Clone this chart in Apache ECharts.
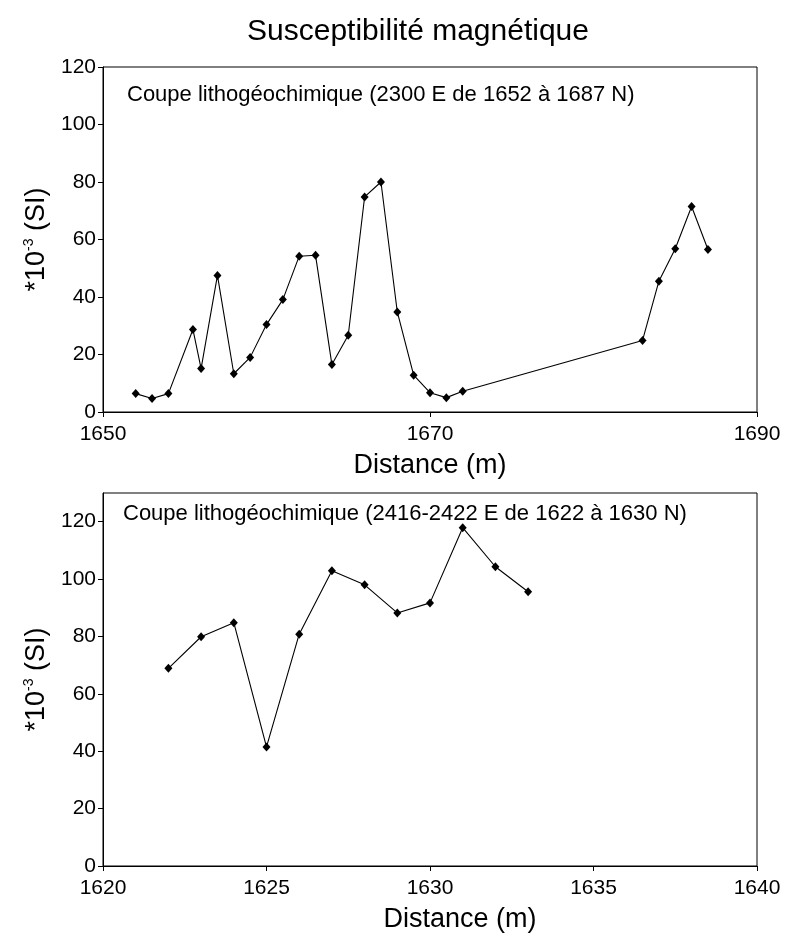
<!DOCTYPE html>
<html>
<head>
<meta charset="utf-8">
<script src="https://cdn.jsdelivr.net/npm/echarts@6/dist/echarts.min.js"></script>
<style>
  html, body { margin: 0; padding: 0; background: #fff; }
  #chart { width: 792px; height: 943px; }
</style>
</head>
<body>
<div id="chart"></div>
<script>
// Section 1: 2300 E, from 1652 to 1687 N
const distance1 = [1652, 1653, 1654, 1655.5, 1656, 1657, 1658, 1659, 1660, 1661, 1662, 1663, 1664,
                   1665, 1666, 1667, 1668, 1669, 1670, 1671, 1672, 1683, 1684, 1685, 1686, 1687];
const suscept1 = [6.4, 4.7, 6.4, 28.7, 15.1, 47.5, 13.3, 19.0, 30.4, 39.1, 54.2, 54.5, 16.5,
                  26.7, 74.8, 80.0, 34.8, 12.8, 6.7, 5.0, 7.2, 24.9, 45.5, 56.8, 71.5, 56.5];

// Section 2: 2416-2422 E, from 1622 to 1630 N
const distance2 = [1622, 1623, 1624, 1625, 1626, 1627, 1628, 1629, 1630, 1631, 1632, 1633];
const suscept2 = [68.9, 79.9, 84.8, 41.5, 80.8, 102.9, 98.0, 88.2, 91.7, 117.9, 104.3, 95.6];

const yTicks = [0, 20, 40, 60, 80, 100, 120];

const mainTitle = 'Susceptibilité magnétique';
const section1Title = 'Coupe lithogéochimique (2300 E de 1652 à 1687 N)';
const section2Title = 'Coupe lithogéochimique (2416-2422 E de 1622 à 1630 N)';
const xName = 'Distance (m)';

const FONT = '"Liberation Sans", Arial, sans-serif';

function pairs(xs, ys) { return xs.map((x, i) => [x, ys[i]]); }

const yName = '*10{sup|-3} (SI)';
const yNameStyle = {
  fontFamily: FONT, fontSize: 27, color: '#000',
  rich: { sup: { fontFamily: FONT, fontSize: 14, color: '#000', verticalAlign: 'top', padding: [0, 0, 14, 0] } }
};

function xAxisCfg(gridIndex, min, max, interval, extraPad) {
  return {
    type: 'value', gridIndex, min, max, interval,
    name: xName, nameLocation: 'middle', nameGap: 40,
    nameTextStyle: { fontFamily: FONT, fontSize: 27, color: '#000', padding: [0, 0, 0, extraPad] },
    axisLine: { show: true, onZero: false, lineStyle: { color: '#000', width: 1 } },
    axisTick: { show: true, inside: false, length: 5, lineStyle: { color: '#000' } },
    axisLabel: { fontFamily: FONT, fontSize: 21, color: '#000', margin: 12, formatter: v => String(v) },
    splitLine: { show: false }
  };
}

function yAxisCfg(gridIndex, max) {
  return {
    type: 'value', gridIndex, min: 0, max, interval: 20,
    name: yName, nameLocation: 'middle', nameGap: 50, nameRotate: 90,
    nameTextStyle: yNameStyle,
    axisLine: { show: true, lineStyle: { color: '#000', width: 1 } },
    axisTick: { show: true, inside: false, length: 5, lineStyle: { color: '#000' }, customValues: yTicks },
    axisLabel: { fontFamily: FONT, fontSize: 21, color: '#000', margin: 7, customValues: yTicks },
    splitLine: { show: false }
  };
}

function lineSeries(idx, data) {
  return {
    type: 'line', xAxisIndex: idx, yAxisIndex: idx, data,
    symbol: 'diamond', symbolSize: [8, 9], showAllSymbol: true,
    lineStyle: { color: '#000', width: 1.1 },
    itemStyle: { color: '#000' },
    animation: false
  };
}

const chart = echarts.init(document.getElementById('chart'), null, { renderer: 'canvas' });
chart.setOption({
  backgroundColor: '#fff',
  animation: false,
  title: [
    { text: mainTitle, left: 413, top: 12, textAlign: 'center',
      textStyle: { fontFamily: FONT, fontSize: 30, fontWeight: 'normal', color: '#000' } },
    { text: section1Title, left: 122, top: 79,
      textStyle: { fontFamily: FONT, fontSize: 22, fontWeight: 'normal', color: '#000' } },
    { text: section2Title, left: 118, top: 498,
      textStyle: { fontFamily: FONT, fontSize: 22, fontWeight: 'normal', color: '#000' } }
  ],
  grid: [
    { left: 103, top: 67, width: 654, height: 345, show: true, borderColor: '#000', borderWidth: 1, containLabel: false },
    { left: 103, top: 493, width: 654, height: 373, show: true, borderColor: '#000', borderWidth: 1, containLabel: false }
  ],
  xAxis: [
    xAxisCfg(0, 1650, 1690, 20, 0),
    xAxisCfg(1, 1620, 1640, 5, 60)
  ],
  yAxis: [
    yAxisCfg(0, 120),
    yAxisCfg(1, 130)
  ],
  series: [
    lineSeries(0, pairs(distance1, suscept1)),
    lineSeries(1, pairs(distance2, suscept2))
  ]
});
</script>
</body>
</html>
